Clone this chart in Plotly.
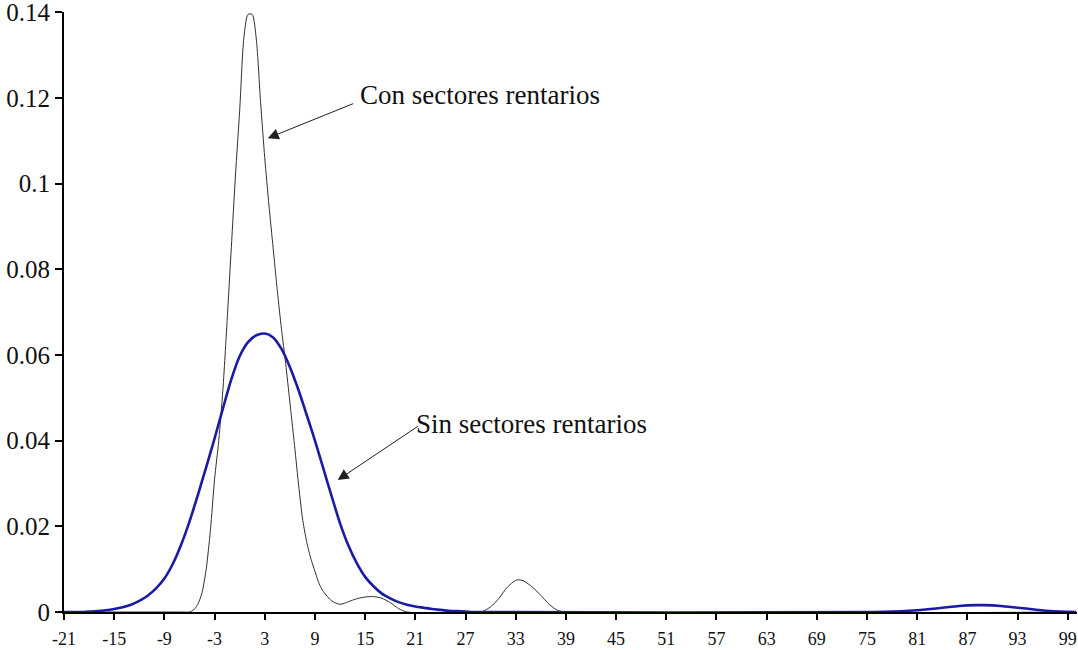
import plotly.graph_objects as go

# ---- Data ----
x_con = [-21, -7, -6, -5.5, -5, -4.5, -4, -3.5, -3, -2.5, -2, -1.5, -1, -0.5, 0, 0.5, 1, 1.5, 2, 2.5,
         3, 3.5, 4, 4.5, 5, 5.5, 6, 6.5, 7, 7.5, 8, 8.5, 9, 9.5, 10, 11, 12, 13, 14, 15, 16, 17, 18,
         19, 20, 28, 29, 30, 31, 32, 33, 33.5, 34, 35, 36, 37, 38, 39, 100]
y_con = [0, 0, 0, 0.0005, 0.0018, 0.0045, 0.010, 0.019, 0.031, 0.040, 0.052, 0.068, 0.085, 0.102,
         0.117, 0.134, 0.1395, 0.1395, 0.1335, 0.119, 0.106, 0.095, 0.085, 0.075, 0.066, 0.058,
         0.049, 0.040, 0.0305, 0.022, 0.0165, 0.0125, 0.0095, 0.0066, 0.0048, 0.0026, 0.0018,
         0.0024, 0.0031, 0.0035, 0.0036, 0.0032, 0.0022, 0.0008, 0, 0, 0.0001, 0.0012, 0.0032,
         0.0058, 0.0074, 0.0075, 0.0072, 0.0058, 0.0039, 0.0018, 0.0004, 0, 0]

x_sin = [-21, -20, -19, -18, -17, -16, -15, -14, -13, -12, -11, -10, -9, -8, -7, -6, -5, -4, -3, -2,
         -1, 0, 1, 2, 3, 4, 5, 6, 7, 8, 9, 10, 11, 12, 13, 14, 15, 16, 17, 18, 19, 20, 21, 22, 23,
         24, 25, 26, 27, 28, 76, 78, 80, 82, 84, 86, 88, 89, 91, 93, 95, 97, 99, 100]
y_sin = [0, 0, 0, 0.0001, 0.0002, 0.0004, 0.0007, 0.0011, 0.0017, 0.0026, 0.0038, 0.0055, 0.0078,
         0.0112, 0.0157, 0.0211, 0.0273, 0.0338, 0.0405, 0.0475, 0.0543, 0.0597, 0.0630, 0.0646,
         0.0650, 0.0641, 0.0614, 0.0572, 0.0520, 0.0461, 0.0400, 0.0335, 0.0270, 0.0207, 0.0155,
         0.0114, 0.0082, 0.0060, 0.0043, 0.0032, 0.0023, 0.0017, 0.0013, 0.0010, 0.0007, 0.0005,
         0.0003, 0.0002, 0.0001, 0, 0, 0.0001, 0.0003, 0.0006, 0.0010, 0.0014, 0.0016, 0.0016,
         0.0014, 0.0010, 0.0006, 0.0002, 0.00005, 0]

x_ticks = list(range(-21, 100, 6))
y_ticks = [0, 0.02, 0.04, 0.06, 0.08, 0.1, 0.12, 0.14]
y_tick_labels = ["0", "0.02", "0.04", "0.06", "0.08", "0.1", "0.12", "0.14"]

label_con = "Con sectores rentarios"
label_sin = "Sin sectores rentarios"

FONT = "Liberation Serif"

fig = go.Figure()
fig.add_trace(go.Scatter(x=x_con, y=y_con, mode="lines", name=label_con,
                         line=dict(color="#303030", width=1, shape="spline", smoothing=0.7),
                         hoverinfo="skip"))
fig.add_trace(go.Scatter(x=x_sin, y=y_sin, mode="lines", name=label_sin,
                         line=dict(color="#1a1aa6", width=2.6, shape="spline", smoothing=0.8),
                         hoverinfo="skip"))

# arrows (head at x,y ; tail at ax,ay)
fig.add_annotation(x=3.36, y=0.1106, ax=13.75, ay=0.1188, axref="x", ayref="y",
                   text="", showarrow=True, arrowhead=2, arrowsize=2.2, arrowwidth=1,
                   arrowcolor="#202020")
fig.add_annotation(x=11.72, y=0.0308, ax=21.5, ay=0.0436, axref="x", ayref="y",
                   text="", showarrow=True, arrowhead=2, arrowsize=2.2, arrowwidth=1,
                   arrowcolor="#202020")
fig.add_annotation(x=14.1, y=0.1206, text=label_con, showarrow=False, xanchor="left",
                   yanchor="middle", font=dict(family=FONT, size=27, color="#111111"))
fig.add_annotation(x=20.9, y=0.0439, text=label_sin, showarrow=False, xanchor="left",
                   yanchor="middle", font=dict(family=FONT, size=27, color="#111111"))

fig.update_layout(
    width=1078, height=650,
    margin=dict(l=64, r=1, t=12, b=38, autoexpand=False),
    paper_bgcolor="white", plot_bgcolor="white",
    showlegend=False,
    xaxis=dict(range=[-21, 100.1], tickmode="array", tickvals=x_ticks,
               ticktext=[str(v) for v in x_ticks], automargin=False, ticklabeloverflow="allow",
               ticklabelstandoff=3,
               showgrid=False, zeroline=False, showline=True, linecolor="black", linewidth=2,
               ticks="outside", ticklen=6, tickwidth=2, tickcolor="black",
               tickfont=dict(family=FONT, size=18, color="#111111"), layer="below traces"),
    yaxis=dict(range=[0, 0.14005], tickmode="array", tickvals=y_ticks, ticktext=y_tick_labels,
               automargin=False, ticklabeloverflow="allow",
               showgrid=False, zeroline=False, showline=True, linecolor="black", linewidth=2,
               ticks="outside", ticklen=7, tickwidth=2, tickcolor="black",
               tickfont=dict(family=FONT, size=25, color="#111111"), layer="below traces"),
)

fig.write_html("out.html", config={"displayModeBar": False},
               post_script="document.body.style.margin='0';document.body.style.overflow='hidden';")
